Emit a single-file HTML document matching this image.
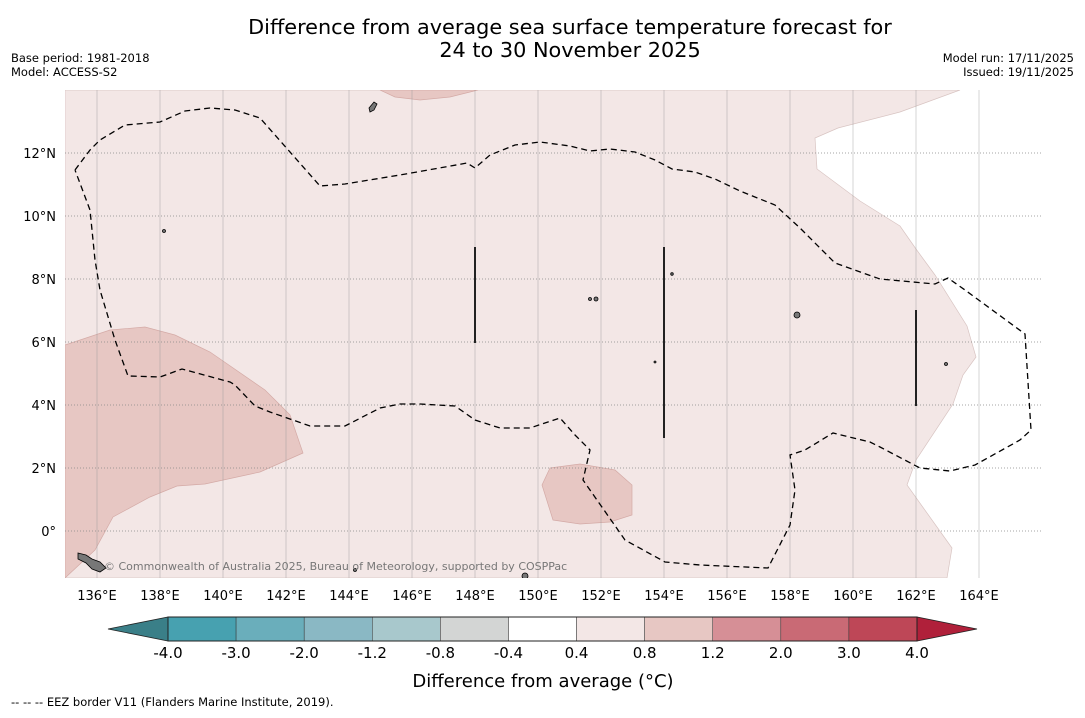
<!DOCTYPE html>
<html><head><meta charset="utf-8"><style>
body{margin:0;background:#fff;width:1085px;height:713px;overflow:hidden;font-family:"Liberation Sans","DejaVu Sans",sans-serif}
svg text{font-family:"DejaVu Sans","Liberation Sans",sans-serif}
</style></head><body>
<svg id="c" width="1085" height="713" viewBox="0 0 1085 713" xmlns="http://www.w3.org/2000/svg">
<text x="570" y="34" text-anchor="middle" font-size="20.8">Difference from average sea surface temperature forecast for</text>
<text x="570" y="57" text-anchor="middle" font-size="20.8">24 to 30 November 2025</text>
<text x="11" y="62" font-size="11.5">Base period: 1981-2018</text>
<text x="11" y="76" font-size="11.5">Model: ACCESS-S2</text>
<text x="1074" y="62" font-size="11.5" text-anchor="end">Model run: 17/11/2025</text>
<text x="1074" y="76" font-size="11.5" text-anchor="end">Issued: 19/11/2025</text>
<defs><clipPath id="mc"><rect x="65" y="90" width="977" height="488"/></clipPath></defs>
<g clip-path="url(#mc)">
<rect x="65" y="90" width="977" height="488" fill="#fff"/>
<polygon fill="#f3e7e6" stroke="#d8c4c2" stroke-width="0.7" points="65,90 960,90 900,112 838,128 815,138 817,169 860,201 868,206 900,226 916,249 935,275 967,326 976,357 963,375 953,404 916,460 907,485 952,548 947,578 65,578"/>
<polygon fill="#e7c7c3" stroke="#d4aaa6" stroke-width="0.7" points="65,345 110,330 145,327 175,335 210,352 265,390 290,415 303,453 260,472 205,484 177,486 150,497 113,517 95,550 65,578"/>
<polygon fill="#e7c7c3" stroke="#d4aaa6" stroke-width="0.7" points="380,90 478,90 450,97 420,100 395,97"/>
<polygon fill="#e7c7c3" stroke="#d4aaa6" stroke-width="0.7" points="542,485 550,468 580,464 615,470 632,485 632,515 610,522 580,524 553,520"/>
<g id="grid"></g>
<polyline fill="none" stroke="#000" stroke-width="1.3" stroke-dasharray="6,4" points="75,170 90,150 100,140 125,125 160,122 185,111 210,108 235,110 260,118 320,186 345,184 400,175 445,167 467,163 475,168 490,155 515,145 540,142 570,146 590,151 610,149 635,152 655,160 672,169 695,172 715,179 740,191 775,205 800,228 835,263 880,279 935,284 948,278 965,290 1025,334 1031,430 1020,440 975,465 950,471 920,468 880,447 870,442 833,433 805,450 790,455 795,490 790,525 768,568 700,565 665,562 625,540 583,480 590,450 575,435 560,418 530,428 500,428 475,420 455,406 420,404 400,404 380,408 345,426 310,426 270,412 255,406 235,385 230,382 182,369 160,377 128,376 115,340 100,290 95,260 90,210 75,170"/>
<line x1="475" y1="247" x2="475" y2="343" stroke="#222" stroke-width="2"/>
<line x1="664" y1="247" x2="664" y2="438" stroke="#222" stroke-width="2"/>
<line x1="916" y1="310" x2="916" y2="406" stroke="#222" stroke-width="2"/>
<g fill="#777" stroke="#000" stroke-width="0.8">
<path d="M369,108 l5,-6 l3,2 l-3,6 l-4,2z"/><circle cx="164" cy="231" r="1.5"/><circle cx="590" cy="299" r="1.5"/><circle cx="596" cy="299" r="2"/>
<circle cx="797" cy="315" r="3"/><circle cx="946" cy="364" r="1.5"/><circle cx="672" cy="274" r="1.3"/><circle cx="655" cy="362" r="1"/>
<path d="M78,553 l8,2 l6,4 l8,3 l6,6 l-6,4 l-8,-3 l-6,-6 l-8,-4z"/><circle cx="525" cy="576" r="3"/><circle cx="355" cy="570" r="1.5"/>
</g>
<text x="104" y="570" font-size="11" fill="#777">© Commonwealth of Australia 2025, Bureau of Meteorology, supported by COSPPac</text>
</g>
<g id="axes"></g>
<g id="cbar"></g>
<text x="543" y="687" text-anchor="middle" font-size="18">Difference from average (°C)</text>
<text x="11" y="706" font-size="11.5">--  --  -- EEZ border V11 (Flanders Marine Institute, 2019).</text>
</svg>
<script>
const lonTicks=[136,138,140,142,144,146,148,150,152,154,156,158,160,162,164];
const latTicks=[0,2,4,6,8,10,12];
const cbLevels=["-4.0","-3.0","-2.0","-1.2","-0.8","-0.4","0.4","0.8","1.2","2.0","3.0","4.0"];
const cbColors=["#47a1b0","#6aaebb","#8ab8c4","#a8c8cc","#d3d5d4","#ffffff","#f3e7e6","#e7c7c3","#d68f96","#c96a75","#be4757"];
const ns="http://www.w3.org/2000/svg";
const xLon=l=>97+(l-136)*31.5, yLat=l=>531-l*31.5;
function mk(t,a,p){const e=document.createElementNS(ns,t);for(const k in a)e.setAttribute(k,a[k]);p.appendChild(e);return e;}
const grid=document.getElementById('grid'),axes=document.getElementById('axes'),cb=document.getElementById('cbar');
lonTicks.forEach(l=>{
 const g=mk('line',{x1:xLon(l),x2:xLon(l),y1:90,y2:578,stroke:'#999','stroke-width':0.6,'stroke-opacity':0.7},grid);
 
 
 const t=mk('text',{x:xLon(l),y:600,'text-anchor':'middle','font-size':13},axes);t.textContent=l+'°E';
 
 
});
latTicks.forEach(l=>{
 const g=mk('line',{x1:65,x2:1042,y1:yLat(l),y2:yLat(l),stroke:'#888','stroke-width':0.8,'stroke-dasharray':'1,2'},grid);
 
 
 const t=mk('text',{x:56,y:yLat(l)+5,'text-anchor':'end','font-size':13},axes);t.textContent=l===0?'0°':l+'°N';
 
 
});
const x0=168,x1=917,y0=617,h=24,w=(x1-x0)/cbColors.length;
const lt=mk('polygon',{points:`108,629 ${x0},${y0} ${x0},${y0+h}`,fill:'#3a7f88',stroke:'#222','stroke-width':0.8},cb);


const rt=mk('polygon',{points:`977,629 ${x1},${y0} ${x1},${y0+h}`,fill:'#b0203a',stroke:'#222','stroke-width':0.8},cb);


cbColors.forEach((c,i)=>{
 const r=mk('rect',{x:x0+i*w,y:y0,width:w,height:h,fill:c,stroke:'#333','stroke-width':0.5},cb);
 
 
});
mk('rect',{x:x0,y:y0,width:x1-x0,height:h,fill:'none',stroke:'#222','stroke-width':1},cb);
cbLevels.forEach((v,i)=>{
 const t=mk('text',{x:x0+i*w,y:658,'text-anchor':'middle','font-size':15},cb);t.textContent=v;
 
 
});
</script>
</body></html>
